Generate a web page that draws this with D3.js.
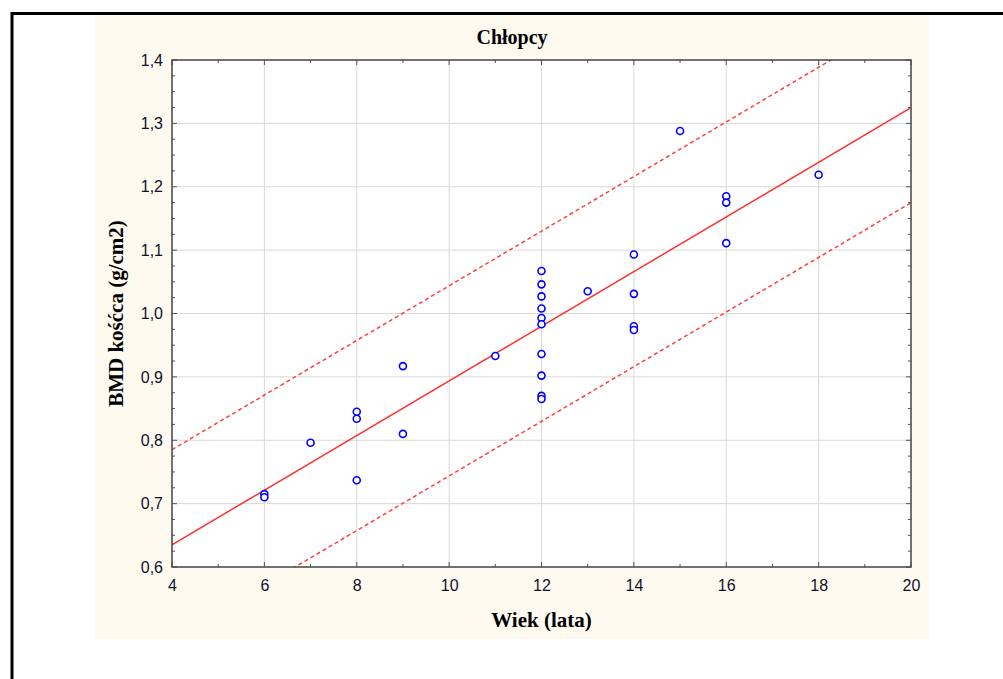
<!DOCTYPE html>
<html><head><meta charset="utf-8">
<script src="https://cdn.jsdelivr.net/npm/d3@7"></script>
<style>body{margin:0;background:#fff;} svg{display:block;}</style>
</head><body>
<svg id="c" width="1003" height="679"></svg>
<script>
const title = "Chłopcy";
const xLabel = "Wiek (lata)";
const yLabel = "BMD kośćca (g/cm2)";
const xTicks = [4, 6, 8, 10, 12, 14, 16, 18, 20];
const yTicks = [0.6, 0.7, 0.8, 0.9, 1.0, 1.1, 1.2, 1.3, 1.4];
const ageValues = [6, 6, 7, 8, 8, 8, 9, 9, 11,
  12, 12, 12, 12, 12, 12, 12, 12, 12, 12,
  13, 14, 14, 14, 14, 15, 16, 16, 16, 18];
const bmdValues = [0.715, 0.710, 0.796, 0.845, 0.834, 0.737, 0.917, 0.810, 0.933,
  1.067, 1.046, 1.027, 1.008, 0.993, 0.983, 0.936, 0.902, 0.870, 0.865,
  1.035, 1.093, 1.031, 0.980, 0.974, 1.288, 1.185, 1.175, 1.111, 1.219];
const fitCoef = [0.4627, 0.0431];   // intercept, slope
const bandOffset = [0.15, -0.15];   // upper, lower

const svg = d3.select("#c");
// outer black frame
svg.append("rect").attr("x", 12).attr("y", 13.5).attr("width", 1100).attr("height", 800)
  .attr("fill", "#fff").attr("stroke", "#000").attr("stroke-width", 3);
// cream panel
svg.append("rect").attr("x", 95).attr("y", 15).attr("width", 834).attr("height", 624).attr("fill", "#fffaf0");

const L = 172, R = 911, T = 60, B = 567;
const x = d3.scaleLinear().domain([4, 20]).range([L, R]);
const y = d3.scaleLinear().domain([0.6, 1.4]).range([B, T]);

svg.append("rect").attr("x", L).attr("y", T).attr("width", R - L).attr("height", B - T).attr("fill", "#fff");

// grid
const g = svg.append("g");
g.selectAll(".gx").data(xTicks.slice(1, -1)).join("line")
  .attr("x1", d => x(d)).attr("x2", d => x(d)).attr("y1", T).attr("y2", B)
  .attr("stroke", "#d9d9d9").attr("stroke-width", 1);
g.selectAll(".gy").data(yTicks.slice(1, -1)).join("line")
  .attr("y1", d => y(d)).attr("y2", d => y(d)).attr("x1", L).attr("x2", R)
  .attr("stroke", "#d9d9d9").attr("stroke-width", 1);

// ticks (inside, all four sides)
const xMinor = d3.range(4, 20.001, 1);
const yMinor = d3.range(0, 33).map(i => 0.6 + i * 0.025);
const tk = svg.append("g").attr("stroke", "#555").attr("stroke-width", 1);
xMinor.forEach(v => {
  const len = (Math.round(v) % 2 === 0) ? 5 : 3;
  tk.append("line").attr("x1", x(v)).attr("x2", x(v)).attr("y1", B).attr("y2", B - len);
  tk.append("line").attr("x1", x(v)).attr("x2", x(v)).attr("y1", T).attr("y2", T + len);
});
yMinor.forEach((v, i) => {
  const len = (i % 4 === 0) ? 5 : 3;
  tk.append("line").attr("y1", y(v)).attr("y2", y(v)).attr("x1", L).attr("x2", L + len);
  tk.append("line").attr("y1", y(v)).attr("y2", y(v)).attr("x1", R).attr("x2", R - len);
});

// axes labels via d3 axis
const fmt = d => d3.format(".1f")(d).replace(".", ",");
const xa = svg.append("g").attr("transform", `translate(0,${B})`)
  .call(d3.axisBottom(x).tickValues(xTicks).tickSize(0).tickPadding(13).tickFormat(d3.format("d")));
const ya = svg.append("g").attr("transform", `translate(${L},0)`)
  .call(d3.axisLeft(y).tickValues(yTicks).tickSize(0).tickPadding(9).tickFormat(fmt));
[xa, ya].forEach(a => {
  a.select(".domain").remove();
  a.selectAll("text").attr("font-family", "Liberation Sans, Arial, sans-serif").attr("font-size", 16).attr("fill", "#101028");
});

// clip
svg.append("clipPath").attr("id", "clip").append("rect").attr("x", L).attr("y", T).attr("width", R - L).attr("height", B - T);
const plot = svg.append("g").attr("clip-path", "url(#clip)");
const fit = v => fitCoef[0] + fitCoef[1] * v;
const xs = [4, 20];
const line = d3.line().x(d => x(d[0])).y(d => y(d[1]));
plot.append("path").attr("d", line(xs.map(v => [v, fit(v)])))
  .attr("stroke", "#ff3030").attr("stroke-width", 1.5).attr("fill", "none");
bandOffset.forEach(o => {
  plot.append("path").attr("d", line(xs.map(v => [v, fit(v) + o])))
    .attr("stroke", "#ff4040").attr("stroke-width", 1.5).attr("fill", "none").attr("stroke-dasharray", "4,3");
});

// points
plot.selectAll("circle").data(ageValues.map((a, i) => [a, bmdValues[i]])).join("circle")
  .attr("cx", d => x(d[0])).attr("cy", d => y(d[1])).attr("r", 3.5)
  .attr("fill", "#fff").attr("stroke", "#0000ff").attr("stroke-width", 1.6);

// frame
svg.append("rect").attr("x", L).attr("y", T).attr("width", R - L).attr("height", B - T)
  .attr("fill", "none").attr("stroke", "#444").attr("stroke-width", 1.5);

// titles
svg.append("text").attr("x", 512).attr("y", 44).attr("text-anchor", "middle")
  .attr("font-family", "Liberation Serif, Times New Roman, serif").attr("font-weight", "bold").attr("font-size", 20)
  .text(title);
svg.append("text").attr("x", (L + R) / 2).attr("y", 627).attr("text-anchor", "middle")
  .attr("font-family", "Liberation Serif, Times New Roman, serif").attr("font-weight", "bold").attr("font-size", 21)
  .text(xLabel);
svg.append("text").attr("transform", `translate(123,${(T + B) / 2}) rotate(-90)`).attr("text-anchor", "middle")
  .attr("font-family", "Liberation Serif, Times New Roman, serif").attr("font-weight", "bold").attr("font-size", 21)
  .text(yLabel);
</script>
</body></html>
